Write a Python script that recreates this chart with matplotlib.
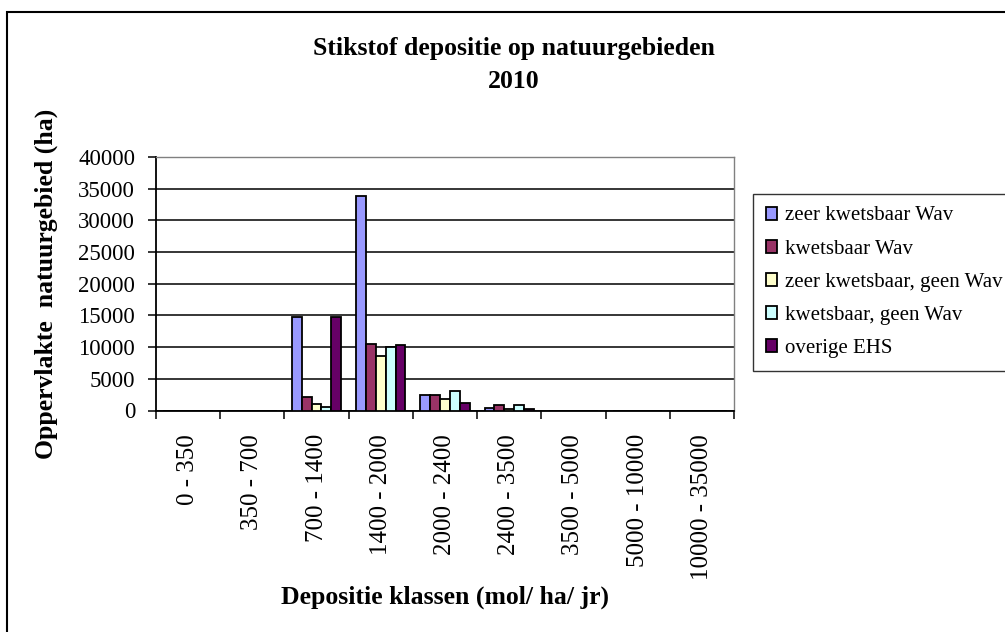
import matplotlib
matplotlib.use("Agg")
import matplotlib.pyplot as plt
import numpy as np
from matplotlib.patches import Rectangle

categories = ["0 - 350", "350 - 700", "700 - 1400", "1400 - 2000", "2000 - 2400",
              "2400 - 3500", "3500 - 5000", "5000 - 10000", "10000 - 35000"]
series_names = ["zeer kwetsbaar Wav", "kwetsbaar Wav", "zeer kwetsbaar, geen Wav",
                "kwetsbaar, geen Wav", "overige EHS"]
zeer_kwetsbaar_wav = [0, 0, 14750, 33800, 2450, 450, 0, 0, 0]
kwetsbaar_wav = [0, 0, 2150, 10550, 2450, 850, 0, 0, 0]
zeer_kwetsbaar_geen_wav = [0, 0, 1000, 8600, 1800, 200, 0, 0, 0]
kwetsbaar_geen_wav = [0, 0, 500, 10000, 3050, 850, 0, 0, 0]
overige_ehs = [0, 0, 14750, 10300, 1150, 200, 0, 0, 0]
series_values = [zeer_kwetsbaar_wav, kwetsbaar_wav, zeer_kwetsbaar_geen_wav,
                 kwetsbaar_geen_wav, overige_ehs]
colors = ["#9999FF", "#993366", "#FFFFCC", "#CCFFFF", "#660066"]
yticks = [0, 5000, 10000, 15000, 20000, 25000, 30000, 35000, 40000]

SERIF = ["Liberation Serif", "DejaVu Serif"]
plt.rcParams["font.family"] = SERIF

W, H = 1005, 632
fig = plt.figure(figsize=(W / 100, H / 100), dpi=100)
fig.patch.set_facecolor("white")

# outer chart frame
fig.patches.append(Rectangle((7 / W, -0.1), 1.2, 1 - 12 / H + 0.1,
                             transform=fig.transFigure, fill=False,
                             edgecolor="black", linewidth=1.5, zorder=0))

left, right, top, bottom = 156, 734, 157, 410.5
ax = fig.add_axes([left / W, 1 - bottom / H, (right - left) / W, (bottom - top) / H])

n = len(categories)
nser = len(series_values)
x = np.arange(n)
bw = 1.0 / (nser + 1.5)
for i, (vals, c, name) in enumerate(zip(series_values, colors, series_names)):
    offs = (i - (nser - 1) / 2) * bw
    ax.bar(x + offs, vals, width=bw, color=c, edgecolor="black", linewidth=1.3,
           label=name, zorder=3)

ax.set_xlim(-0.5, n - 0.5)
ax.set_ylim(0, 40000)
ax.set_yticks(yticks)
ax.set_yticklabels([str(v) for v in yticks], fontsize=16.5)
ax.yaxis.grid(True, color="black", linewidth=1.1, zorder=0)
ax.set_axisbelow(True)

ax.set_xticks(x)
ax.set_xticklabels(categories, rotation=90, fontsize=18, va="top", ha="center")
ax.set_xticks(np.arange(-0.5, n, 1.0), minor=True)
ax.tick_params(axis="x", which="major", length=0, pad=17)
ax.tick_params(axis="x", which="minor", length=6, width=1.1, direction="out", color="black")
ax.tick_params(axis="y", length=6, width=1.1, direction="out", pad=9)

for s in ["left", "bottom"]:
    ax.spines[s].set_color("black")
    ax.spines[s].set_linewidth(1.3)
for s in ["top", "right"]:
    ax.spines[s].set_color("#808080")
    ax.spines[s].set_linewidth(1.0)

fig.text(514 / W, 1 - 49 / H, "Stikstof depositie op natuurgebieden", ha="center",
         va="center", fontsize=18.5, fontweight="bold")
fig.text(514 / W, 1 - 81 / H, "2010", ha="center", va="center", fontsize=18.5,
         fontweight="bold")
fig.text(46 / W, 1 - 284 / H, "Oppervlakte  natuurgebied (ha)", rotation=90,
         ha="center", va="center", fontsize=18.5, fontweight="bold")
fig.text(445 / W, 1 - 597 / H, "Depositie klassen (mol/ ha/ jr)", ha="center",
         va="center", fontsize=18.5, fontweight="bold")

leg = fig.legend(loc="upper left", bbox_to_anchor=(753 / W, 1 - 194 / H),
                 bbox_transform=fig.transFigure, fontsize=15, frameon=True,
                 fancybox=False, borderpad=0.6, labelspacing=0.68,
                 handlelength=0.57, handleheight=0.57, handletextpad=0.35,
                 borderaxespad=0)
leg.get_frame().set_edgecolor("black")
leg.get_frame().set_linewidth(1.0)

fig.savefig("out.png", dpi=100)
